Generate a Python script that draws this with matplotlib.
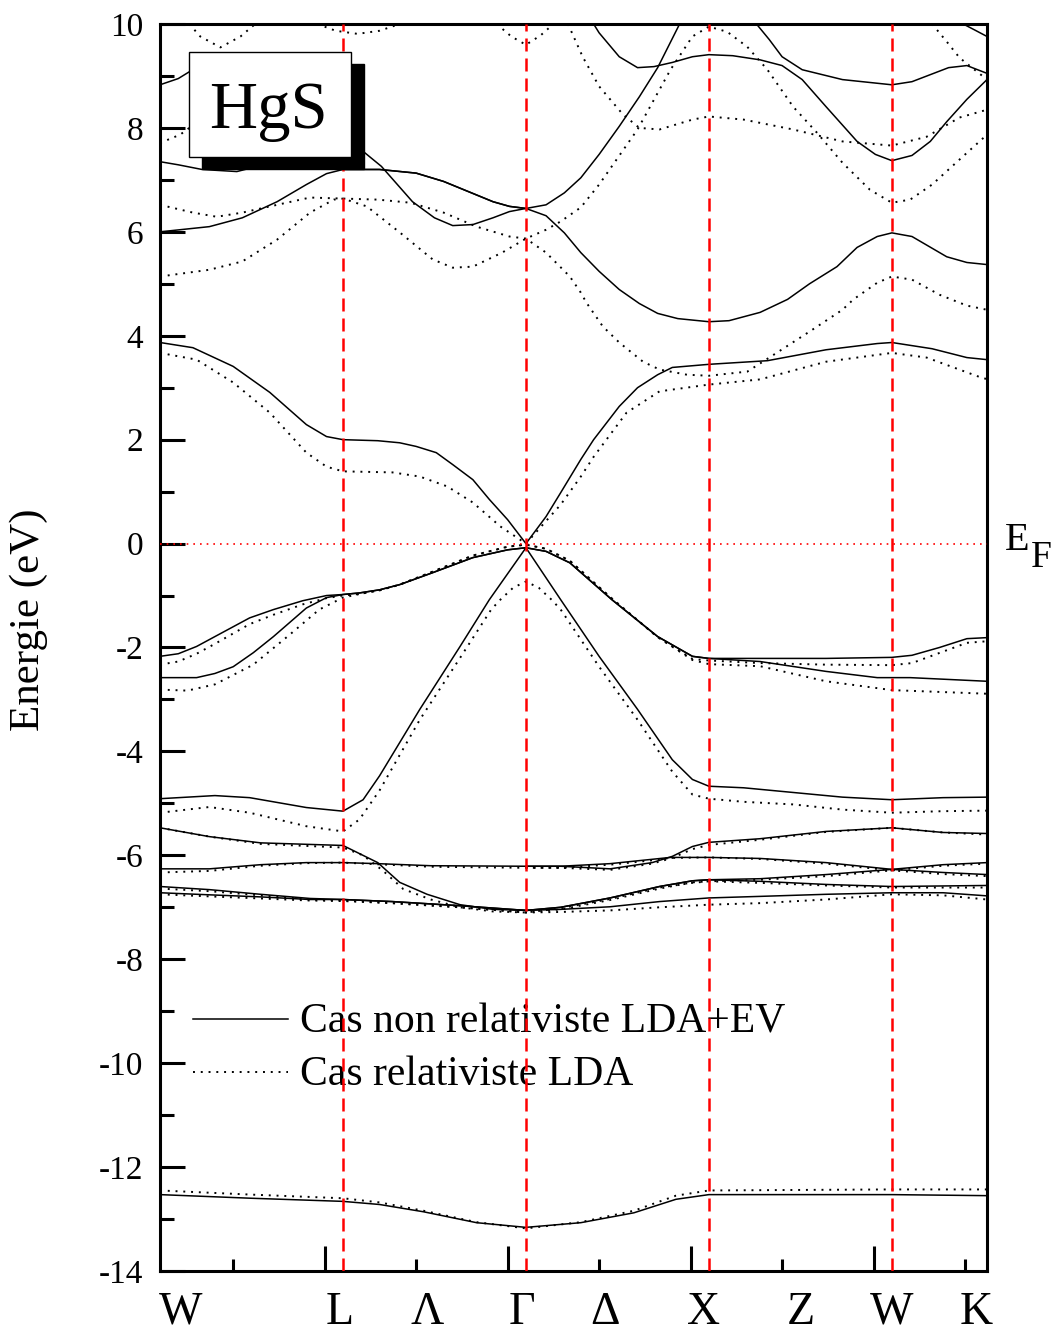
import matplotlib
matplotlib.use("Agg")
import matplotlib.pyplot as plt
from matplotlib.patches import Rectangle

plt.rcParams['font.family'] = ['Liberation Serif', 'DejaVu Serif']
plt.rcParams['axes.unicode_minus'] = False

# k path: W(0) - L(1) - Gamma(2) - X(3) - W(4) - K(4.52)
k_sym = [1, 2, 3, 4]
k_labels = ['W', 'L', 'Λ', 'Γ', 'Δ', 'X', 'Z', 'W', 'K']
k_label_pos = [0.11, 0.98, 1.46, 1.98, 2.43, 2.97, 3.50, 4.0, 4.46]

# ---- non relativistic LDA+EV (solid) ----
s_low = [(0, -12.53), (0.5, -12.60), (1.0, -12.66), (1.2, -12.72), (1.44, -12.86), (1.73, -13.07),
         (2.0, -13.16), (2.30, -13.07), (2.59, -12.88), (2.82, -12.62), (3.0, -12.53), (4.0, -12.53),
         (4.52, -12.55)]
s_d1 = [(0, -5.47), (0.27, -5.64), (0.55, -5.76), (1.0, -5.81), (1.19, -6.14), (1.31, -6.52),
        (1.46, -6.75), (1.64, -6.95), (1.82, -7.04), (2.0, -7.06), (2.19, -7.0), (2.46, -6.82),
        (2.73, -6.60), (2.91, -6.49), (3.0, -6.47), (3.28, -6.45), (3.64, -6.37), (4.0, -6.27),
        (4.28, -6.18), (4.52, -6.14)]
s_d2 = [(0, -6.26), (0.27, -6.26), (0.55, -6.18), (0.80, -6.14), (1.0, -6.14), (1.19, -6.16),
        (1.48, -6.20), (2.0, -6.21), (2.19, -6.21), (2.46, -6.26), (2.69, -6.14), (2.80, -6.02),
        (2.91, -5.83), (3.0, -5.75), (3.28, -5.68), (3.64, -5.54), (4.0, -5.47), (4.28, -5.56),
        (4.52, -5.58)]
s_d3 = [(2.0, -6.21), (2.19, -6.21), (2.46, -6.16), (2.68, -6.08), (2.79, -6.04), (3.0, -6.04),
        (3.28, -6.06), (3.64, -6.14), (4.0, -6.27), (4.28, -6.33), (4.52, -6.37)]
s_d4 = [(0, -6.60), (0.27, -6.66), (0.55, -6.75), (0.82, -6.83), (1.0, -6.85), (1.27, -6.89),
        (1.64, -6.97), (2.0, -7.06), (2.19, -7.0), (2.46, -6.82), (2.73, -6.60), (2.91, -6.49),
        (3.0, -6.47), (3.28, -6.50), (3.64, -6.56), (4.0, -6.60), (4.52, -6.58)]
s_d5 = [(0, -6.72), (0.27, -6.76), (0.55, -6.80), (0.82, -6.85), (1.0, -6.85), (1.27, -6.89),
        (1.64, -6.97), (2.0, -7.06), (2.19, -7.04), (2.46, -6.99), (2.73, -6.89), (3.0, -6.82),
        (3.28, -6.79), (3.64, -6.75), (4.0, -6.72), (4.28, -6.72), (4.52, -6.78)]
s_v3 = [(0, -4.91), (0.30, -4.85), (0.49, -4.89), (0.80, -5.08), (1.0, -5.15), (1.11, -4.93),
        (1.20, -4.47), (1.42, -3.19), (1.64, -1.98), (1.80, -1.08), (2.0, -0.08), (2.19, -1.08),
        (2.40, -2.17), (2.61, -3.19), (2.80, -4.16), (2.91, -4.54), (3.0, -4.67), (3.19, -4.70),
        (3.46, -4.79), (3.73, -4.88), (4.0, -4.93), (4.28, -4.89), (4.52, -4.88)]
s_v2 = [(0, -2.58), (0.20, -2.58), (0.30, -2.50), (0.40, -2.37), (0.51, -2.10), (0.62, -1.79),
        (0.80, -1.24), (0.91, -1.04), (1.0, -0.98), (1.09, -0.95), (1.20, -0.89), (1.31, -0.79),
        (1.49, -0.56), (1.71, -0.27), (1.90, -0.12), (2.0, -0.08), (2.11, -0.15), (2.24, -0.37),
        (2.47, -1.08), (2.72, -1.79), (2.91, -2.17), (3.0, -2.21), (3.28, -2.27), (3.64, -2.46),
        (3.92, -2.58), (4.10, -2.58), (4.52, -2.65)]
s_v1 = [(0, -2.17), (0.10, -2.12), (0.20, -1.98), (0.30, -1.79), (0.49, -1.43), (0.62, -1.27),
        (0.78, -1.10), (0.91, -1.0), (1.0, -0.98), (1.09, -0.95), (1.20, -0.89), (1.31, -0.79),
        (1.49, -0.56), (1.71, -0.27), (1.90, -0.12), (2.0, -0.08), (2.11, -0.15), (2.24, -0.37),
        (2.47, -1.08), (2.72, -1.79), (2.91, -2.17), (3.0, -2.21), (3.28, -2.21), (3.64, -2.21),
        (4.0, -2.19), (4.11, -2.15), (4.26, -2.0), (4.41, -1.83), (4.52, -1.81)]
s_c1 = [(0, 3.87), (0.18, 3.77), (0.40, 3.41), (0.60, 2.91), (0.80, 2.29), (0.91, 2.06), (1.0, 2.00),
        (1.19, 1.98), (1.31, 1.94), (1.40, 1.87), (1.51, 1.75), (1.60, 1.52), (1.71, 1.23), (1.80, 0.85),
        (1.90, 0.46), (2.0, 0.0), (2.11, 0.52), (2.19, 0.98), (2.30, 1.62), (2.37, 2.00), (2.51, 2.64),
        (2.61, 3.0), (2.72, 3.25), (2.80, 3.39), (3.0, 3.45), (3.32, 3.52), (3.64, 3.73), (3.92, 3.85),
        (4.0, 3.87), (4.22, 3.75), (4.41, 3.58), (4.52, 3.54)]
s_c2 = [(0, 6.0), (0.27, 6.10), (0.45, 6.27), (0.64, 6.58), (0.80, 6.91), (0.91, 7.12), (1.0, 7.20),
        (1.20, 7.20), (1.40, 7.13), (1.55, 6.97), (1.82, 6.58), (1.91, 6.49), (2.0, 6.45), (2.11, 6.31),
        (2.21, 5.98), (2.30, 5.60), (2.40, 5.24), (2.51, 4.89), (2.62, 4.62), (2.72, 4.43), (2.83, 4.33),
        (3.0, 4.27), (3.11, 4.29), (3.28, 4.45), (3.43, 4.70), (3.55, 5.0), (3.70, 5.33), (3.81, 5.70),
        (3.92, 5.91), (4.0, 5.98), (4.11, 5.91), (4.30, 5.52), (4.41, 5.41), (4.52, 5.37)]
s_c3 = [(0, 7.35), (0.10, 7.29), (0.23, 7.20), (0.42, 7.16), (0.51, 7.24), (0.77, 7.25), (1.0, 7.20),
        (1.20, 7.20), (1.40, 7.13), (1.55, 6.97), (1.82, 6.58), (1.91, 6.49), (2.0, 6.45), (2.11, 6.52),
        (2.21, 6.75), (2.30, 7.04), (2.40, 7.49), (2.51, 8.03), (2.62, 8.60), (2.72, 9.16), (2.84, 10.0)]
s_u4 = [(0, 8.83), (0.10, 8.95), (0.16, 9.08), (0.35, 9.2), (0.7, 8.6), (1.0, 7.9), (1.12, 7.52),
        (1.21, 7.26), (1.38, 6.58), (1.50, 6.27), (1.60, 6.12), (1.71, 6.14), (1.82, 6.27), (1.91, 6.39),
        (2.0, 6.45)]
s_u1 = [(2.37, 10.0), (2.40, 9.83), (2.51, 9.37), (2.61, 9.16), (2.70, 9.18), (2.80, 9.26), (2.91, 9.37),
        (3.0, 9.41), (3.13, 9.39), (3.28, 9.31), (3.40, 9.20), (3.51, 8.93), (3.64, 8.41), (3.81, 7.74),
        (3.91, 7.49), (4.0, 7.37), (4.11, 7.47), (4.21, 7.74), (4.30, 8.12), (4.41, 8.55), (4.52, 8.93)]
s_u2 = [(3.26, 10.0), (3.33, 9.70), (3.40, 9.37), (3.51, 9.12), (3.73, 8.93), (4.0, 8.83), (4.11, 8.89),
        (4.31, 9.16), (4.41, 9.20), (4.52, 9.05)]
s_u3 = [(4.39, 10.0), (4.45, 9.89), (4.52, 9.76)]

# ---- relativistic LDA (dotted) ----
r_low = [(0, -12.45), (0.5, -12.53), (1.0, -12.60), (1.2, -12.68), (1.44, -12.84), (1.73, -13.06),
         (2.0, -13.18), (2.30, -13.06), (2.59, -12.84), (2.82, -12.55), (3.0, -12.45), (4.0, -12.43),
         (4.52, -12.43)]
r_d1 = [(0, -5.47), (0.27, -5.64), (0.55, -5.78), (1.0, -5.85), (1.11, -6.0), (1.22, -6.3), (1.33, -6.65),
        (1.48, -6.85), (1.64, -7.0), (1.82, -7.08), (2.0, -7.1), (2.19, -7.02), (2.46, -6.84), (2.73, -6.62),
        (2.91, -6.53), (3.0, -6.50), (3.28, -6.47), (3.64, -6.40), (4.0, -6.29), (4.28, -6.20), (4.52, -6.16)]
r_d2 = [(0, -6.33), (0.27, -6.30), (0.55, -6.20), (0.80, -6.15), (1.0, -6.14), (1.48, -6.22), (2.0, -6.24),
        (2.19, -6.24), (2.46, -6.28), (2.69, -6.16), (2.80, -6.05), (2.91, -5.88), (3.0, -5.80), (3.28, -5.70),
        (3.64, -5.55), (4.0, -5.47), (4.28, -5.56), (4.52, -5.60)]
r_d3 = [(2.0, -6.24), (2.19, -6.24), (2.46, -6.18), (2.68, -6.10), (2.79, -6.05), (3.0, -6.04), (3.28, -6.07),
        (3.64, -6.16), (4.0, -6.29), (4.28, -6.36), (4.52, -6.40)]
r_d4 = [(0, -6.64), (0.27, -6.69), (0.55, -6.77), (0.82, -6.85), (1.0, -6.87), (1.27, -6.92), (1.64, -7.0),
        (2.0, -7.1), (2.19, -7.04), (2.46, -6.86), (2.73, -6.64), (2.91, -6.52), (3.0, -6.50), (3.28, -6.53),
        (3.64, -6.58), (4.0, -6.62), (4.52, -6.62)]
r_d5 = [(0, -6.75), (0.27, -6.79), (0.55, -6.83), (0.82, -6.87), (1.0, -6.88), (1.27, -6.92), (1.64, -7.0),
        (2.0, -7.1), (2.19, -7.09), (2.46, -7.06), (2.73, -7.0), (3.0, -6.95), (3.28, -6.92), (3.64, -6.85),
        (4.0, -6.75), (4.28, -6.77), (4.52, -6.85)]
r_v3 = [(0, -5.18), (0.27, -5.07), (0.49, -5.18), (0.80, -5.44), (1.0, -5.54), (1.09, -5.31), (1.20, -4.75),
        (1.42, -3.39), (1.64, -2.2), (1.81, -1.27), (1.86, -1.08), (1.93, -0.85), (2.0, -0.73), (2.07, -0.85),
        (2.14, -1.08), (2.19, -1.27), (2.40, -2.37), (2.61, -3.39), (2.80, -4.39), (2.91, -4.83), (3.0, -4.91),
        (3.19, -4.97), (3.46, -5.02), (3.73, -5.12), (4.0, -5.18), (4.28, -5.15), (4.52, -5.14)]
r_v2 = [(0, -2.81), (0.15, -2.83), (0.30, -2.71), (0.51, -2.33), (0.71, -1.75), (0.87, -1.27), (1.0, -1.04),
        (1.09, -0.97), (1.20, -0.90), (1.31, -0.79), (1.49, -0.54), (1.71, -0.23), (1.90, -0.06), (2.0, -0.02),
        (2.11, -0.10), (2.24, -0.33), (2.47, -1.06), (2.72, -1.80), (2.91, -2.24), (3.0, -2.32), (3.28, -2.36),
        (3.64, -2.65), (4.0, -2.82), (4.52, -2.89)]
r_v1 = [(0, -2.33), (0.10, -2.27), (0.20, -2.12), (0.30, -1.93), (0.49, -1.55), (0.62, -1.37), (0.78, -1.17),
        (0.91, -1.05), (1.0, -1.0), (1.09, -0.97), (1.20, -0.90), (1.31, -0.79), (1.49, -0.54), (1.71, -0.23),
        (1.90, -0.06), (2.0, -0.02), (2.11, -0.10), (2.24, -0.33), (2.47, -1.06), (2.72, -1.80), (2.91, -2.22),
        (3.0, -2.25), (3.28, -2.30), (3.64, -2.33), (4.0, -2.34), (4.11, -2.30), (4.41, -1.91), (4.52, -1.88)]
r_c1 = [(0, 3.67), (0.20, 3.54), (0.40, 3.10), (0.60, 2.52), (0.80, 1.75), (0.91, 1.48), (1.0, 1.39),
        (1.27, 1.37), (1.42, 1.29), (1.57, 1.10), (1.71, 0.79), (1.86, 0.33), (2.0, 0.0), (2.19, 0.75),
        (2.30, 1.29), (2.37, 1.67), (2.55, 2.52), (2.73, 2.93), (3.0, 3.06), (3.28, 3.16), (3.64, 3.50),
        (4.0, 3.67), (4.19, 3.58), (4.50, 3.18), (4.52, 3.17)]
r_c2a = [(0, 5.14), (0.27, 5.27), (0.45, 5.43), (0.64, 5.85), (0.82, 6.37), (0.95, 6.62), (1.0, 6.64),
         (1.13, 6.49), (1.31, 5.99), (1.49, 5.47), (1.60, 5.31), (1.71, 5.33), (1.87, 5.60), (2.0, 5.87),
         (2.11, 6.04), (2.19, 6.20), (2.30, 6.47), (2.40, 6.91), (2.61, 7.97), (2.79, 9.12), (2.91, 9.76),
         (3.0, 9.95), (3.10, 9.85), (3.21, 9.56), (3.32, 9.12), (3.46, 8.41), (3.59, 7.91), (3.73, 7.33),
         (3.88, 6.81), (4.0, 6.56), (4.10, 6.62), (4.22, 6.91), (4.41, 7.52), (4.52, 7.87)]
r_c2b = [(0, 6.52), (0.18, 6.37), (0.31, 6.29), (0.45, 6.37), (0.64, 6.52), (0.82, 6.66), (1.0, 6.64),
         (1.19, 6.62), (1.37, 6.56), (1.55, 6.37), (1.73, 6.10), (1.91, 5.91), (2.0, 5.87), (2.11, 5.60),
         (2.24, 5.14), (2.30, 4.83), (2.33, 4.64), (2.42, 4.18), (2.51, 3.87), (2.64, 3.50), (2.73, 3.35),
         (2.88, 3.25), (3.0, 3.23), (3.21, 3.31), (3.37, 3.67), (3.55, 4.08), (3.73, 4.50), (3.79, 4.70),
         (3.92, 5.02), (4.0, 5.14), (4.11, 5.08), (4.26, 4.79), (4.41, 4.58), (4.52, 4.50)]
r_top1 = [(2.23, 10.0), (2.31, 9.37), (2.40, 8.80), (2.53, 8.26), (2.62, 8.0), (2.73, 7.97), (2.91, 8.16),
          (3.0, 8.22), (3.19, 8.16), (3.46, 7.97), (3.73, 7.74), (4.0, 7.66), (4.19, 7.83), (4.37, 8.20),
          (4.52, 8.35)]
r_top2 = [(0.16, 10.0), (0.22, 9.76), (0.33, 9.55), (0.44, 9.76), (0.52, 10.0)]
r_top3 = [(0.86, 10.0), (0.96, 9.87), (1.08, 9.81), (1.20, 9.87), (1.31, 10.0)]
r_top4 = [(1.84, 10.0), (1.92, 9.76), (2.0, 9.60), (2.08, 9.78), (2.15, 10.0)]
r_top5 = [(4.22, 10.0), (4.30, 9.66), (4.37, 9.35), (4.52, 8.93)]
r_left = [(0, 7.71), (0.11, 7.87), (0.16, 8.0), (0.3, 8.3)]

solid_bands = [s_low, s_d1, s_d2, s_d3, s_d4, s_d5, s_v3, s_v2, s_v1, s_c1, s_c2, s_c3,
               s_u4, s_u1, s_u2, s_u3]
dotted_bands = [r_low, r_d1, r_d2, r_d3, r_d4, r_d5, r_v3, r_v2, r_v1, r_c1, r_c2a, r_c2b,
                r_top1, r_top2, r_top3, r_top4, r_top5, r_left]

fig = plt.figure(figsize=(10.56, 13.35), dpi=100)
ax = fig.add_axes([160 / 1056, 1 - 1271 / 1335, 827 / 1056, 1247 / 1335])

dot_style = (0, (1, 3))
for band in solid_bands:
    k, e = zip(*band)
    ax.plot(k, e, color='black', lw=1.1, zorder=2)
for band in dotted_bands:
    k, e = zip(*band)
    ax.plot(k, e, color='black', lw=1.4, ls=dot_style, zorder=2)

# symmetry lines and Fermi level
for ks in k_sym:
    ax.axvline(ks, color='red', lw=1.8, ls=(0, (5.2, 2.8)), zorder=5)
ax.axhline(0, color='red', lw=1.2, ls=(0, (1, 3)), zorder=5)

ax.set_xlim(0, 4.52)
ax.set_ylim(-14, 10)

ax.set_yticks(range(-14, 11, 2))
ax.set_yticks(range(-13, 10, 2), minor=True)
ax.set_yticklabels([str(v) for v in range(-14, 11, 2)])
ax.set_xticks([0.9, 1.9, 2.9, 3.9])
ax.set_xticks([0.4, 1.4, 2.4, 3.4, 4.4], minor=True)
ax.set_xticklabels([])
ax.tick_params(which='both', direction='in', width=2.2, top=False, right=False)
ax.tick_params(axis='y', which='major', length=18, labelsize=24, pad=12)
ax.tick_params(axis='y', which='minor', length=10)
ax.tick_params(axis='x', which='major', length=18)
ax.tick_params(axis='x', which='minor', length=9)
for sp in ax.spines.values():
    sp.set_linewidth(2.2)

for lab, kp in zip(k_labels, k_label_pos):
    ax.text(kp, -0.0422, lab, transform=ax.get_xaxis_transform(), ha='center', va='baseline',
            fontsize=33)

ax.set_ylabel('Energie (eV)', fontsize=31)
ax.yaxis.set_label_coords(-0.135, 0.522)

# Fermi level label
ax.text(1.0218, 0.5782, 'E', transform=ax.transAxes, fontsize=29, ha='left', va='baseline')
ax.text(1.053, 0.5646, 'F', transform=ax.transAxes, fontsize=27, ha='left', va='baseline')

# legend (drawn by hand, no frame)
ax.plot([0.0399, 0.1548], [0.2021, 0.2021], transform=ax.transAxes, color='black', lw=1.1, zorder=3)
ax.plot([0.0399, 0.1548], [0.1596, 0.1596], transform=ax.transAxes, color='black', lw=1.4,
        ls=dot_style, zorder=3)
ax.text(0.1693, 0.1909, 'Cas non relativiste LDA+EV', transform=ax.transAxes, fontsize=30,
        ha='left', va='baseline', zorder=3)
ax.text(0.1693, 0.1492, 'Cas relativiste LDA', transform=ax.transAxes, fontsize=30,
        ha='left', va='baseline', zorder=3)

# HgS label box with shadow
ax.add_patch(Rectangle((0.0508, 0.8837), 0.1959, 0.0842, transform=ax.transAxes,
                       facecolor='black', edgecolor='black', zorder=10))
ax.add_patch(Rectangle((0.0351, 0.8933), 0.1959, 0.0842, transform=ax.transAxes,
                       facecolor='white', edgecolor='black', lw=1.0, zorder=11))
ax.text(0.1306, 0.9166, 'HgS', transform=ax.transAxes, fontsize=48, ha='center', va='baseline',
        zorder=12)

fig.savefig('out.png', dpi=100)
